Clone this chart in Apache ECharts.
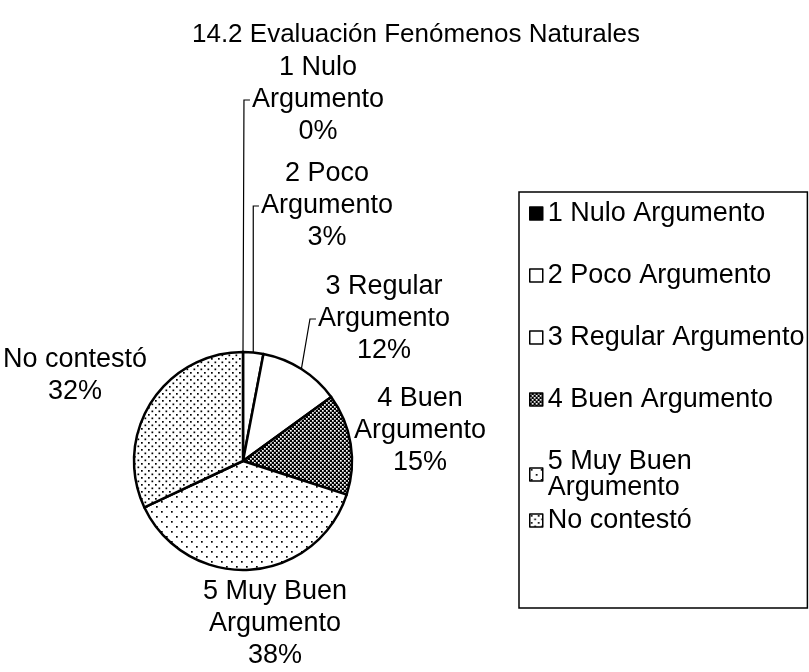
<!DOCTYPE html>
<html>
<head>
<meta charset="utf-8">
<script src="https://cdn.jsdelivr.net/npm/echarts@6/dist/echarts.min.js"></script>
<style>
  html, body { margin: 0; padding: 0; background: #fff; }
  #chart { width: 809px; height: 672px; }
</style>
</head>
<body>
<div id="chart"></div>
<script>
const FONT = '"Liberation Sans", Arial, sans-serif';

// data (percent of answers)
const categories = ['1 Nulo Argumento', '2 Poco Argumento', '3 Regular Argumento', '4 Buen Argumento', '5 Muy Buen Argumento', 'No contestó'];
const values = [0, 3, 12, 15, 38, 32];
const sliceLabels = ['1 Nulo\nArgumento', '2 Poco\nArgumento', '3 Regular\nArgumento', '4 Buen\nArgumento', '5 Muy Buen\nArgumento', 'No contestó'];
const legendLabels = ['1 Nulo Argumento', '2 Poco Argumento', '3 Regular Argumento', '4 Buen Argumento', '5 Muy Buen\nArgumento', 'No contestó'];

// label block centres (x, y) and whether a leader line is drawn
const labelPos = [[318, 100], [327, 206], [384, 319], [420, 431], [275, 624], [75, 376]];
const withLine = [true, true, true, false, false, false];

function dotPattern(bg, fg, size, dots) {
    const c = document.createElement('canvas');
    c.width = size; c.height = size;
    const ctx = c.getContext('2d');
    ctx.fillStyle = bg;
    ctx.fillRect(0, 0, size, size);
    ctx.fillStyle = fg;
    dots.forEach(([x, y]) => ctx.fillRect(x, y, 1.7, 1.7));
    return { image: c, repeat: 'repeat' };
}

const fills = [
    '#000',
    '#fff',
    '#fff',
    dotPattern('#000', '#fff', 4, [[0, 0], [2, 2]]),
    dotPattern('#fff', '#000', 10, [[1, 1], [6, 6]]),
    dotPattern('#fff', '#000', 7, [[1, 1], [4.5, 4.5]])
];

const legendText = { fontFamily: FONT, fontSize: 27, color: '#000', lineHeight: 26 };

const chart = echarts.init(document.getElementById('chart'));
chart.setOption({
    animation: false,
    textStyle: { fontFamily: FONT },
    title: {
        text: '14.2 Evaluación Fenómenos Naturales',
        left: 411,
        top: 17,
        textAlign: 'center',
        textStyle: { fontFamily: FONT, fontSize: 26, fontWeight: 'normal', color: '#000' }
    },
    legend: [{
        orient: 'vertical',
        left: 519,
        top: 192,
        data: categories.slice(0, 5),
        icon: 'rect',
        itemWidth: 13,
        itemHeight: 13,
        itemGap: 35,
        padding: [8, 3, 107, 10],
        borderColor: '#000',
        borderWidth: 1.5,
        itemStyle: { borderColor: '#000', borderWidth: 1.5 },
        textStyle: legendText,
        formatter: name => legendLabels[categories.indexOf(name)]
    }, {
        orient: 'vertical',
        left: 529,
        top: 507,
        data: categories.slice(5),
        icon: 'rect',
        itemWidth: 13,
        itemHeight: 13,
        padding: 0,
        itemStyle: { borderColor: '#000', borderWidth: 1.5 },
        textStyle: legendText,
        formatter: name => legendLabels[categories.indexOf(name)]
    }],
    series: [{
        type: 'pie',
        center: [243, 461],
        radius: 109,
        startAngle: 90,
        clockwise: true,
        avoidLabelOverlap: false,
        silent: true,
        itemStyle: { borderColor: '#000', borderWidth: 2.5 },
        label: {
            show: true,
            position: 'outside',
            fontFamily: FONT,
            fontSize: 27,
            lineHeight: 32,
            color: '#000',
            align: 'center',
            formatter: p => sliceLabels[p.dataIndex] + '\n' + p.value + '%'
        },
        labelLine: { show: true, length: 10, length2: 10, lineStyle: { color: '#000', width: 1.2 } },
        labelLayout: params => {
            const i = params.dataIndex;
            const [x, y] = labelPos[i];
            const out = { x, y, align: 'center', verticalAlign: 'middle' };
            if (withLine[i] && params.labelLinePoints) {
                const edge = params.labelLinePoints[0];
                const left = x - params.labelRect.width / 2;
                const bend = Math.max(edge[0], left - 8);
                out.labelLinePoints = [edge, [bend, y], [left - 2, y]];
            }
            return out;
        },
        data: categories.map((name, i) => ({
            name,
            value: values[i],
            itemStyle: { color: fills[i] },
            labelLine: { show: withLine[i] }
        }))
    }]
});
</script>
</body>
</html>
